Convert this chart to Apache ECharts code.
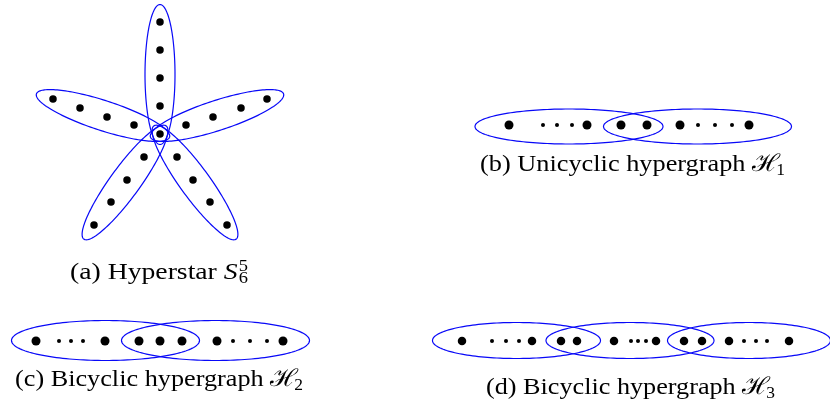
<!DOCTYPE html>
<html><head><meta charset="utf-8">
<script src="https://cdn.jsdelivr.net/npm/echarts@6/dist/echarts.min.js"></script>
<style>html,body{margin:0;padding:0;background:#fff}#c{width:830px;height:406px}</style>
</head><body><div id="c"></div>
<script>
// ---- data (coordinates in the drawing's own units, y grows downward) ----
// (a) Hyperstar: vertices
const starNodes = [
  [160,22],[160,50],[160,78],[160,106],[160,134],
  [53,99],[80,108],[107,117],[134,125],
  [186,125],[213,117],[241,108],[267,99],
  [144,157],[127,180],[111,202],[94,225],
  [177,157],[193,180],[210,202],[227,225]
];
// hyperedges: [centerX, centerY, semiMajor, semiMinor, angleDeg]
const starEdges = [
  [160,74.5,70,15,90],
  [103,115.5,70,15,18],
  [217,115.5,70,15,-18],
  [125,182.5,70,15,-54],
  [195,182.5,70,15,54]
];
// (b) Unicyclic hypergraph H1
const uniBig = [[509,125],[587,125],[621,125],[647,125],[680,125],[749,125]];
const uniSmall = [[543,125],[557,125],[572,125],[698,125],[715,125],[732,125]];
const uniEdges = [[569,126.5,94,17.5,0],[697.5,126.5,94,17.5,0]];
// (c) Bicyclic hypergraph H2
const bi2Big = [[36,341],[105,341],[139,341],[160,341],[182,341],[217,341],[283,341]];
const bi2Small = [[59,341],[71,341],[83,341],[233,341],[250,341],[267,341]];
const bi2Edges = [[105.5,340.5,94,20,0],[215.5,340.5,94,20,0]];
// (d) Bicyclic hypergraph H3
const bi3Big = [[462,341],[532,341],[561,341],[577,341],[614,341],[656,341],[684,341],[702,341],[729,341],[789,341]];
const bi3Small = [[492,341],[506,341],[519,341],[631,341],[638,341],[646,341],[744,341],[756,341],[767,341]];
const bi3Edges = [[516.5,340.5,84,18,0],[630,340.5,84,18,0],[749,340.5,81.5,18,0]];
// captions
const capA = [['(a) Hyperstar ','roman'],['S','italic'],[['5','6'],'stack']];
const capB = [['(b) Unicyclic hypergraph ','roman'],['\u210B','script'],['1','sub']];
const capC = [['(c) Bicyclic hypergraph ','roman'],['\u210B','script'],['2','sub']];
const capD = [['(d) Bicyclic hypergraph ','roman'],['\u210B','script'],['3','sub']];

// ---- layout / style ----
const FAM = "'Liberation Serif', serif";
const FONTS = {
  roman: '24px ' + FAM,
  italic: 'italic 24px ' + FAM,
  script: "24px 'DejaVu Serif', serif",
  sub: '16px ' + FAM,
  stack: '16px ' + FAM
};
const capLayout = [
  {cap: capA, cx: 159, cy: 272.5, width: 178},
  {cap: capB, cx: 632.5, cy: 165, width: 305},
  {cap: capC, cx: 159, cy: 380, width: 288},
  {cap: capD, cx: 630.5, cy: 388, width: 289}
];
const mctx = document.createElement('canvas').getContext('2d');
function tw(t, f){ mctx.font = f; return mctx.measureText(t).width; }

function buildCaption(L){
  const items = []; let x = 0;
  L.cap.forEach(([t, kind]) => {
    const f = FONTS[kind];
    if (kind === 'stack') {
      const w = Math.max(tw(t[0], f), tw(t[1], f));
      items.push({t: t[0], f, x: x + 1, dy: -6});
      items.push({t: t[1], f, x: x + 1, dy: 6});
      x += w + 1;
    } else if (kind === 'sub') {
      x -= 3;
      items.push({t, f, x, dy: 6});
      x += tw(t, f);
    } else {
      items.push({t, f, x, dy: 0});
      x += tw(t, f);
    }
  });
  const total = x;
  return {
    type: 'group', x: L.cx, y: L.cy, scaleX: L.width / total, scaleY: 1,
    children: items.map(it => ({
      type: 'text', x: it.x - total / 2, y: it.dy,
      style: {text: it.t, font: it.f, fill: '#000', align: 'left', verticalAlign: 'middle'}
    }))
  };
}

function renderEllipse(params, api){
  const c = api.coord([api.value(0), api.value(1)]);
  const sx = api.size([1, 0])[0], sy = api.size([0, 1])[1];
  const a = api.value(2), b = api.value(3), ang = api.value(4) * Math.PI / 180;
  const pts = [];
  const N = 160;
  for (let i = 0; i < N; i++) {
    const t = i / N * 2 * Math.PI;
    const ex = a * Math.cos(t), ey = b * Math.sin(t);
    pts.push([c[0] + (ex * Math.cos(ang) - ey * Math.sin(ang)) * sx,
              c[1] + (ex * Math.sin(ang) + ey * Math.cos(ang)) * sy]);
  }
  return {type: 'polygon', shape: {points: pts},
          style: {fill: 'none', stroke: '#0808f8', lineWidth: 1.2}};
}

const dots = (data, size) => ({
  type: 'scatter', data, symbol: 'circle', symbolSize: size, silent: true,
  itemStyle: {color: '#000', opacity: 1}, z: 5
});

const chart = echarts.init(document.getElementById('c'), null, {renderer: 'canvas'});
chart.setOption({
  animation: false,
  backgroundColor: '#fff',
  grid: {left: 0, right: 0, top: 0, bottom: 0},
  xAxis: {type: 'value', min: 0, max: 830, show: false},
  yAxis: {type: 'value', min: 0, max: 406, inverse: true, show: false},
  series: [
    {type: 'custom', renderItem: renderEllipse, clip: false, silent: true, z: 2,
     encode: {x: 0, y: 1},
     data: [...starEdges, ...uniEdges, ...bi2Edges, ...bi3Edges]},
    dots(starNodes, 7.5),
    dots(uniBig, 9), dots(uniSmall, 4),
    dots(bi2Big, 9), dots(bi2Small, 4),
    dots(bi3Big, 8.5), dots(bi3Small, 4)
  ],
  graphic: capLayout.map(buildCaption)
});
</script>
</body></html>
